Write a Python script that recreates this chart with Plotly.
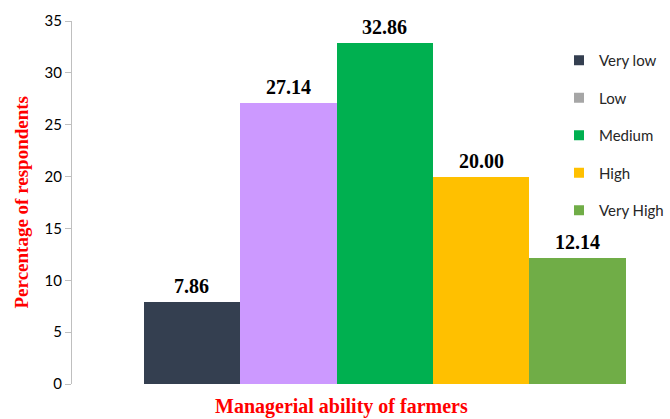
import plotly.graph_objects as go

categories = ["Very low", "Low", "Medium", "High", "Very High"]
values = [7.86, 27.14, 32.86, 20.00, 12.14]
labels = ["7.86", "27.14", "32.86", "20.00", "12.14"]
bar_colors = ["#343F50", "#CC99FF", "#00B050", "#FFC000", "#70AD47"]
legend_colors = ["#343F50", "#A6A6A6", "#00B050", "#FFC000", "#70AD47"]
y_ticks = [0, 5, 10, 15, 20, 25, 30, 35]

fig = go.Figure()
fig.add_trace(go.Bar(
    x=categories, y=values, marker=dict(color=bar_colors, line=dict(width=0)),
    showlegend=False, hoverinfo="skip",
))
for name, col in zip(categories, legend_colors):
    fig.add_trace(go.Scatter(
        x=[None], y=[None], mode="markers", name=name, legendgroup=name,
        marker=dict(symbol="square", size=10, color=col),
    ))

for cat, val, lab in zip(categories, values, labels):
    fig.add_annotation(
        x=cat, y=val, text=f"<b>{lab}</b>", showarrow=False,
        yanchor="bottom", yshift=3,
        font=dict(family="Liberation Serif", size=20, color="#000000"),
    )

fig.add_annotation(
    xref="paper", yref="paper", x=(21 - 72) / 596, y=0.5,
    xanchor="center", yanchor="middle",
    text="<b>Percentage of respondents</b>", textangle=-90, showarrow=False,
    font=dict(family="Liberation Serif", size=19, color="#FF0000"),
)
fig.add_annotation(
    xref="paper", yref="paper", x=(341 - 72) / 596, y=(384 - 393) / 363,
    xanchor="center", yanchor="top",
    text="<b>Managerial ability of farmers</b>", showarrow=False,
    font=dict(family="Liberation Serif", size=20, color="#FF0000"),
)

fig.update_layout(
    width=670, height=419,
    margin=dict(l=72, r=2, t=21, b=35, autoexpand=False),
    paper_bgcolor="white", plot_bgcolor="white",
    bargap=0,
    showlegend=True,
    legend=dict(
        x=(559 - 72) / 596, y=(384 - 44) / 363, xanchor="left", yanchor="top",
        font=dict(family="Lato", size=15, color="#262626"),
        tracegroupgap=15, bgcolor="rgba(0,0,0,0)", itemwidth=30,
    ),
    xaxis=dict(
        type="category", range=[-1.245, 4.939], showticklabels=False,
        showline=False, showgrid=False, zeroline=False, ticks="",
        automargin=False,
    ),
    yaxis=dict(
        range=[0, 35], tickvals=y_ticks, showgrid=False, zeroline=False,
        showline=True, linecolor="#BFBFBF", linewidth=1,
        ticks="outside", ticklen=6, tickcolor="#BFBFBF", automargin=False,
        tickfont=dict(family="Lato", size=15, color="#000000"),
    ),
)

fig.write_html("out.html")
